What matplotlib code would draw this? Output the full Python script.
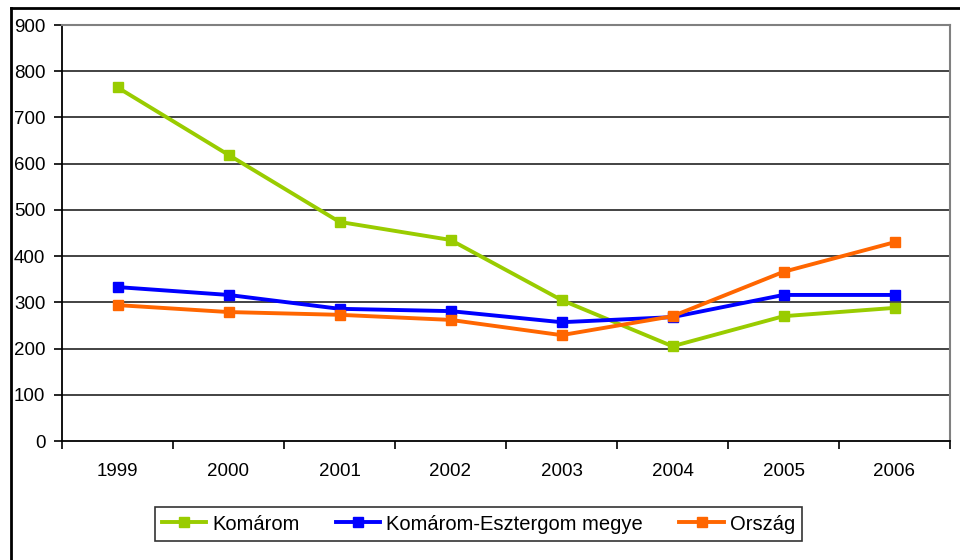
import matplotlib
matplotlib.use("Agg")
import matplotlib.pyplot as plt
from matplotlib.lines import Line2D

plt.rcParams['font.family'] = ['Liberation Sans', 'DejaVu Sans']

years = ["1999", "2000", "2001", "2002", "2003", "2004", "2005", "2006"]
komarom = [765, 619, 474, 435, 305, 205, 270, 288]
megye = [333, 316, 286, 281, 257, 268, 316, 316]
orszag = [294, 279, 273, 262, 229, 270, 366, 430]
series_names = ["Komárom", "Komárom-Esztergom megye", "Ország"]
colors = ["#99CC00", "#0000FF", "#FF6600"]
yticks = list(range(0, 901, 100))

fig = plt.figure(figsize=(9.6, 5.6), dpi=100)
ax = fig.add_axes([62/960, 1-441/560, (950-62)/960, (441-25)/560])

x = list(range(len(years)))
for vals, name, c in zip([komarom, megye, orszag], series_names, colors):
    ax.plot(x, vals, color=c, lw=2.8, marker='s', ms=6.5, mec=c, mfc=c, label=name, zorder=3)

ax.set_xlim(-0.5, len(years)-0.5)
ax.set_ylim(0, 900)
ax.set_yticks(yticks)
ax.set_yticklabels([str(v) for v in yticks], fontsize=13.5)
ax.set_xticks(x)
ax.set_xticklabels(years, fontsize=13.5)
ax.set_xticks([i-0.5 for i in range(len(years)+1)], minor=True)
ax.tick_params(axis='x', which='major', length=0, pad=16)
ax.tick_params(axis='x', which='minor', length=6, width=1.2, direction='out')
ax.tick_params(axis='y', length=6, width=1.2, direction='out', pad=6)
for v in yticks[1:-1]:
    ax.axhline(v, color='#222222', lw=1.2, zorder=1)
ax.spines['top'].set_color('#808080')
ax.spines['right'].set_color('#808080')
ax.spines['top'].set_linewidth(1.5)
ax.spines['right'].set_linewidth(1.5)
ax.spines['left'].set_linewidth(1.3)
ax.spines['bottom'].set_linewidth(1.3)

leg = fig.legend(loc='center', bbox_to_anchor=(478.5/960, 1-524/560), ncol=3, fontsize=14.5,
                 frameon=True, fancybox=False, edgecolor='black', handlelength=2.2,
                 columnspacing=1.8, handletextpad=0.3, borderpad=0.35)
leg.get_frame().set_linewidth(1.2)

# outer chart frame
fig.add_artist(Line2D([11/960, 11/960], [0, 1-8/560], color='black', lw=2, transform=fig.transFigure))
fig.add_artist(Line2D([11/960, 1], [1-8/560, 1-8/560], color='black', lw=2, transform=fig.transFigure))

fig.savefig("out.png", dpi=100)
